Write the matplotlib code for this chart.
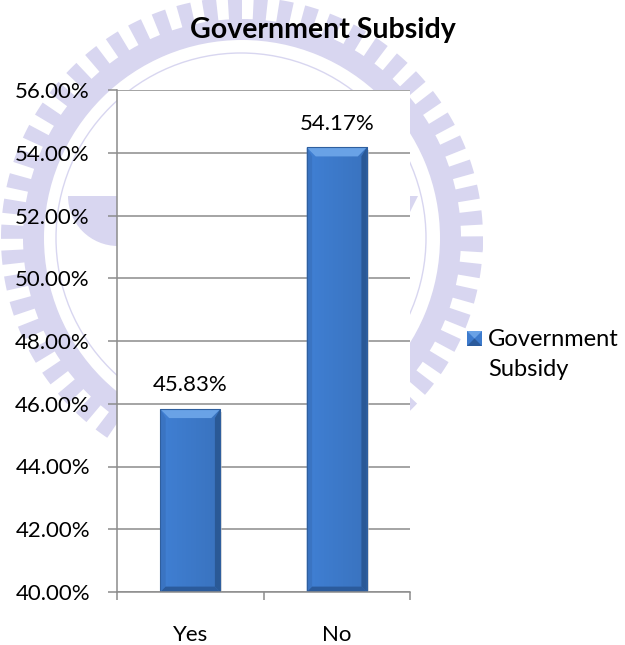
import numpy as np
import matplotlib
matplotlib.use("Agg")
import matplotlib.pyplot as plt
from matplotlib.patches import Rectangle, Polygon, Wedge, Circle

# chart data
categories = ["Yes", "No"]
values = [45.83, 54.17]
y_ticks = [40, 42, 44, 46, 48, 50, 52, 54, 56]
series_name = "Government Subsidy"

plt.rcParams["font.family"] = ["Lato", "DejaVu Sans"]

W, H = 625, 645
fig = plt.figure(figsize=(W / 100, H / 100), dpi=100)
fig.patch.set_facecolor("white")

# light lavender seal in the page background
bg = fig.add_axes([0, 0, 1, 1], zorder=0)
bg.set_xlim(0, W)
bg.set_ylim(H, 0)
bg.axis("off")
lav = "#d8d6f0"
cx, cy = 242, 238
bg.add_patch(Wedge((cx, cy), 219, 0, 360, width=21, color=lav, lw=0))
for a in np.arange(0, 360, 6.2):
    bg.add_patch(Wedge((cx, cy), 241, a, a + 3.4, width=24, color=lav, lw=0))
bg.add_patch(Circle((cx - 1, cy), 185, fill=False, ec=lav, lw=1.0))
bg.add_patch(Wedge((118, 196), 50, 90, 180, color=lav, lw=0))
bg.add_patch(Polygon([(410, 196), (418, 196), (410, 212)], color=lav, lw=0))

# main plot area
ax = fig.add_axes([117 / W, 1 - 592 / H, 293 / W, 502 / H], zorder=1)
ax.set_facecolor("white")

x = np.arange(len(categories))
bar_w = 0.41
ax.set_xlim(-0.5, len(categories) - 0.5)
ax.set_ylim(y_ticks[0], y_ticks[-1])

# pixel sizes in data units
px_x = 1 / 146.5
px_y = (y_ticks[-1] - y_ticks[0]) / 502

grid_col = "#8c8c8c"
ax.set_yticks(y_ticks)
ax.set_yticklabels([f"{t:.2f}%" for t in y_ticks])
ax.yaxis.grid(True, color=grid_col, lw=1.1, zorder=0)
ax.set_axisbelow(True)

ax.set_xticks([-0.5, 0.5, 1.5])
ax.set_xticklabels([])
ax.set_xticks(x, minor=True)
ax.set_xticklabels(categories, minor=True)
ax.tick_params(axis="x", which="major", length=6, width=1.1, color=grid_col, direction="out")
ax.tick_params(axis="x", which="minor", length=0, pad=24, labelsize=16)
ax.tick_params(axis="y", length=6.5, width=1.1, color=grid_col, pad=13, labelsize=16)

for s in ["top", "right"]:
    ax.spines[s].set_visible(False)
for s in ["left", "bottom"]:
    ax.spines[s].set_color(grid_col)
    ax.spines[s].set_linewidth(1.1)

base = y_ticks[0]
bars = ax.bar(x, [v - base for v in values], bottom=base, width=bar_w,
              color="#3d7bcd", edgecolor="none", zorder=2)

for rect, v in zip(bars, values):
    x0 = rect.get_x()
    x1 = x0 + rect.get_width()
    y0, y1 = base, v
    # soft shadow
    ax.add_patch(Rectangle((x0 + 2 * px_x, y0 - 3 * px_y), x1 - x0, y1 - y0,
                           color="#c8c8c8", alpha=0.6, zorder=1.5, lw=0))
    # horizontal shading across the bar face
    grad = np.linspace(0, 1, 64)
    shade = np.array([0.25, 0.50, 0.83]) * (1 - 0.10 * grad[:, None])
    img = ax.imshow(shade[None, :, :], extent=(x0, x1, y0, y1), aspect="auto",
                    zorder=2.1, interpolation="bilinear")
    img.set_clip_path(rect)
    bx = 9 * px_x
    by = 9 * px_y
    # bevel facets
    ax.add_patch(Polygon([(x0, y1), (x1, y1), (x1 - bx, y1 - by), (x0 + bx, y1 - by)],
                         color="#69a2e6", lw=0, zorder=2.2))
    ax.add_patch(Polygon([(x0, y0), (x0 + bx * 0.6, y0 + by * 0.6),
                          (x0 + bx * 0.6, y1 - by), (x0, y1)],
                         color="#3a74c2", lw=0, zorder=2.2))
    ax.add_patch(Polygon([(x1, y0), (x1 - bx * 0.6, y0 + by * 0.6),
                          (x1 - bx * 0.6, y1 - by), (x1, y1)],
                         color="#2a5996", lw=0, zorder=2.2))
    ax.add_patch(Polygon([(x0, y0), (x1, y0), (x1 - bx * 0.6, y0 + by * 0.6),
                          (x0 + bx * 0.6, y0 + by * 0.6)],
                         color="#2b5b9c", lw=0, zorder=2.2))
    ax.add_patch(Rectangle((x0, y0), x1 - x0, y1 - y0, fill=False,
                           ec="#2f5f9e", lw=0.8, zorder=2.3))
    ax.annotate(f"{v:.2f}%", (rect.get_x() + rect.get_width() / 2, v),
                xytext=(0, 10), textcoords="offset points",
                ha="center", va="bottom", fontsize=16, zorder=3)

fig.text(323 / W, 1 - 30 / H, "Government Subsidy", ha="center", va="center",
         fontsize=20.5, fontweight="bold")

# legend entry
lg = fig.add_axes([0, 0, 1, 1], zorder=2)
lg.set_xlim(0, W)
lg.set_ylim(H, 0)
lg.axis("off")
lg.patch.set_alpha(0)
mx0, my0, ms = 467, 331, 15
lg.add_patch(Rectangle((mx0, my0), ms, ms, color="#3d7bcd", lw=0))
lg.add_patch(Polygon([(mx0, my0), (mx0 + ms, my0), (mx0 + ms / 2, my0 + ms / 2)],
                     color="#69a2e6", lw=0))
lg.add_patch(Polygon([(mx0, my0 + ms), (mx0 + ms, my0 + ms), (mx0 + ms / 2, my0 + ms / 2)],
                     color="#2b5b9c", lw=0))
lg.text(488, 339, "Government", ha="left", va="center", fontsize=17)
lg.text(488, 369, "Subsidy", ha="left", va="center", fontsize=17)

fig.savefig("out.png", dpi=100)
